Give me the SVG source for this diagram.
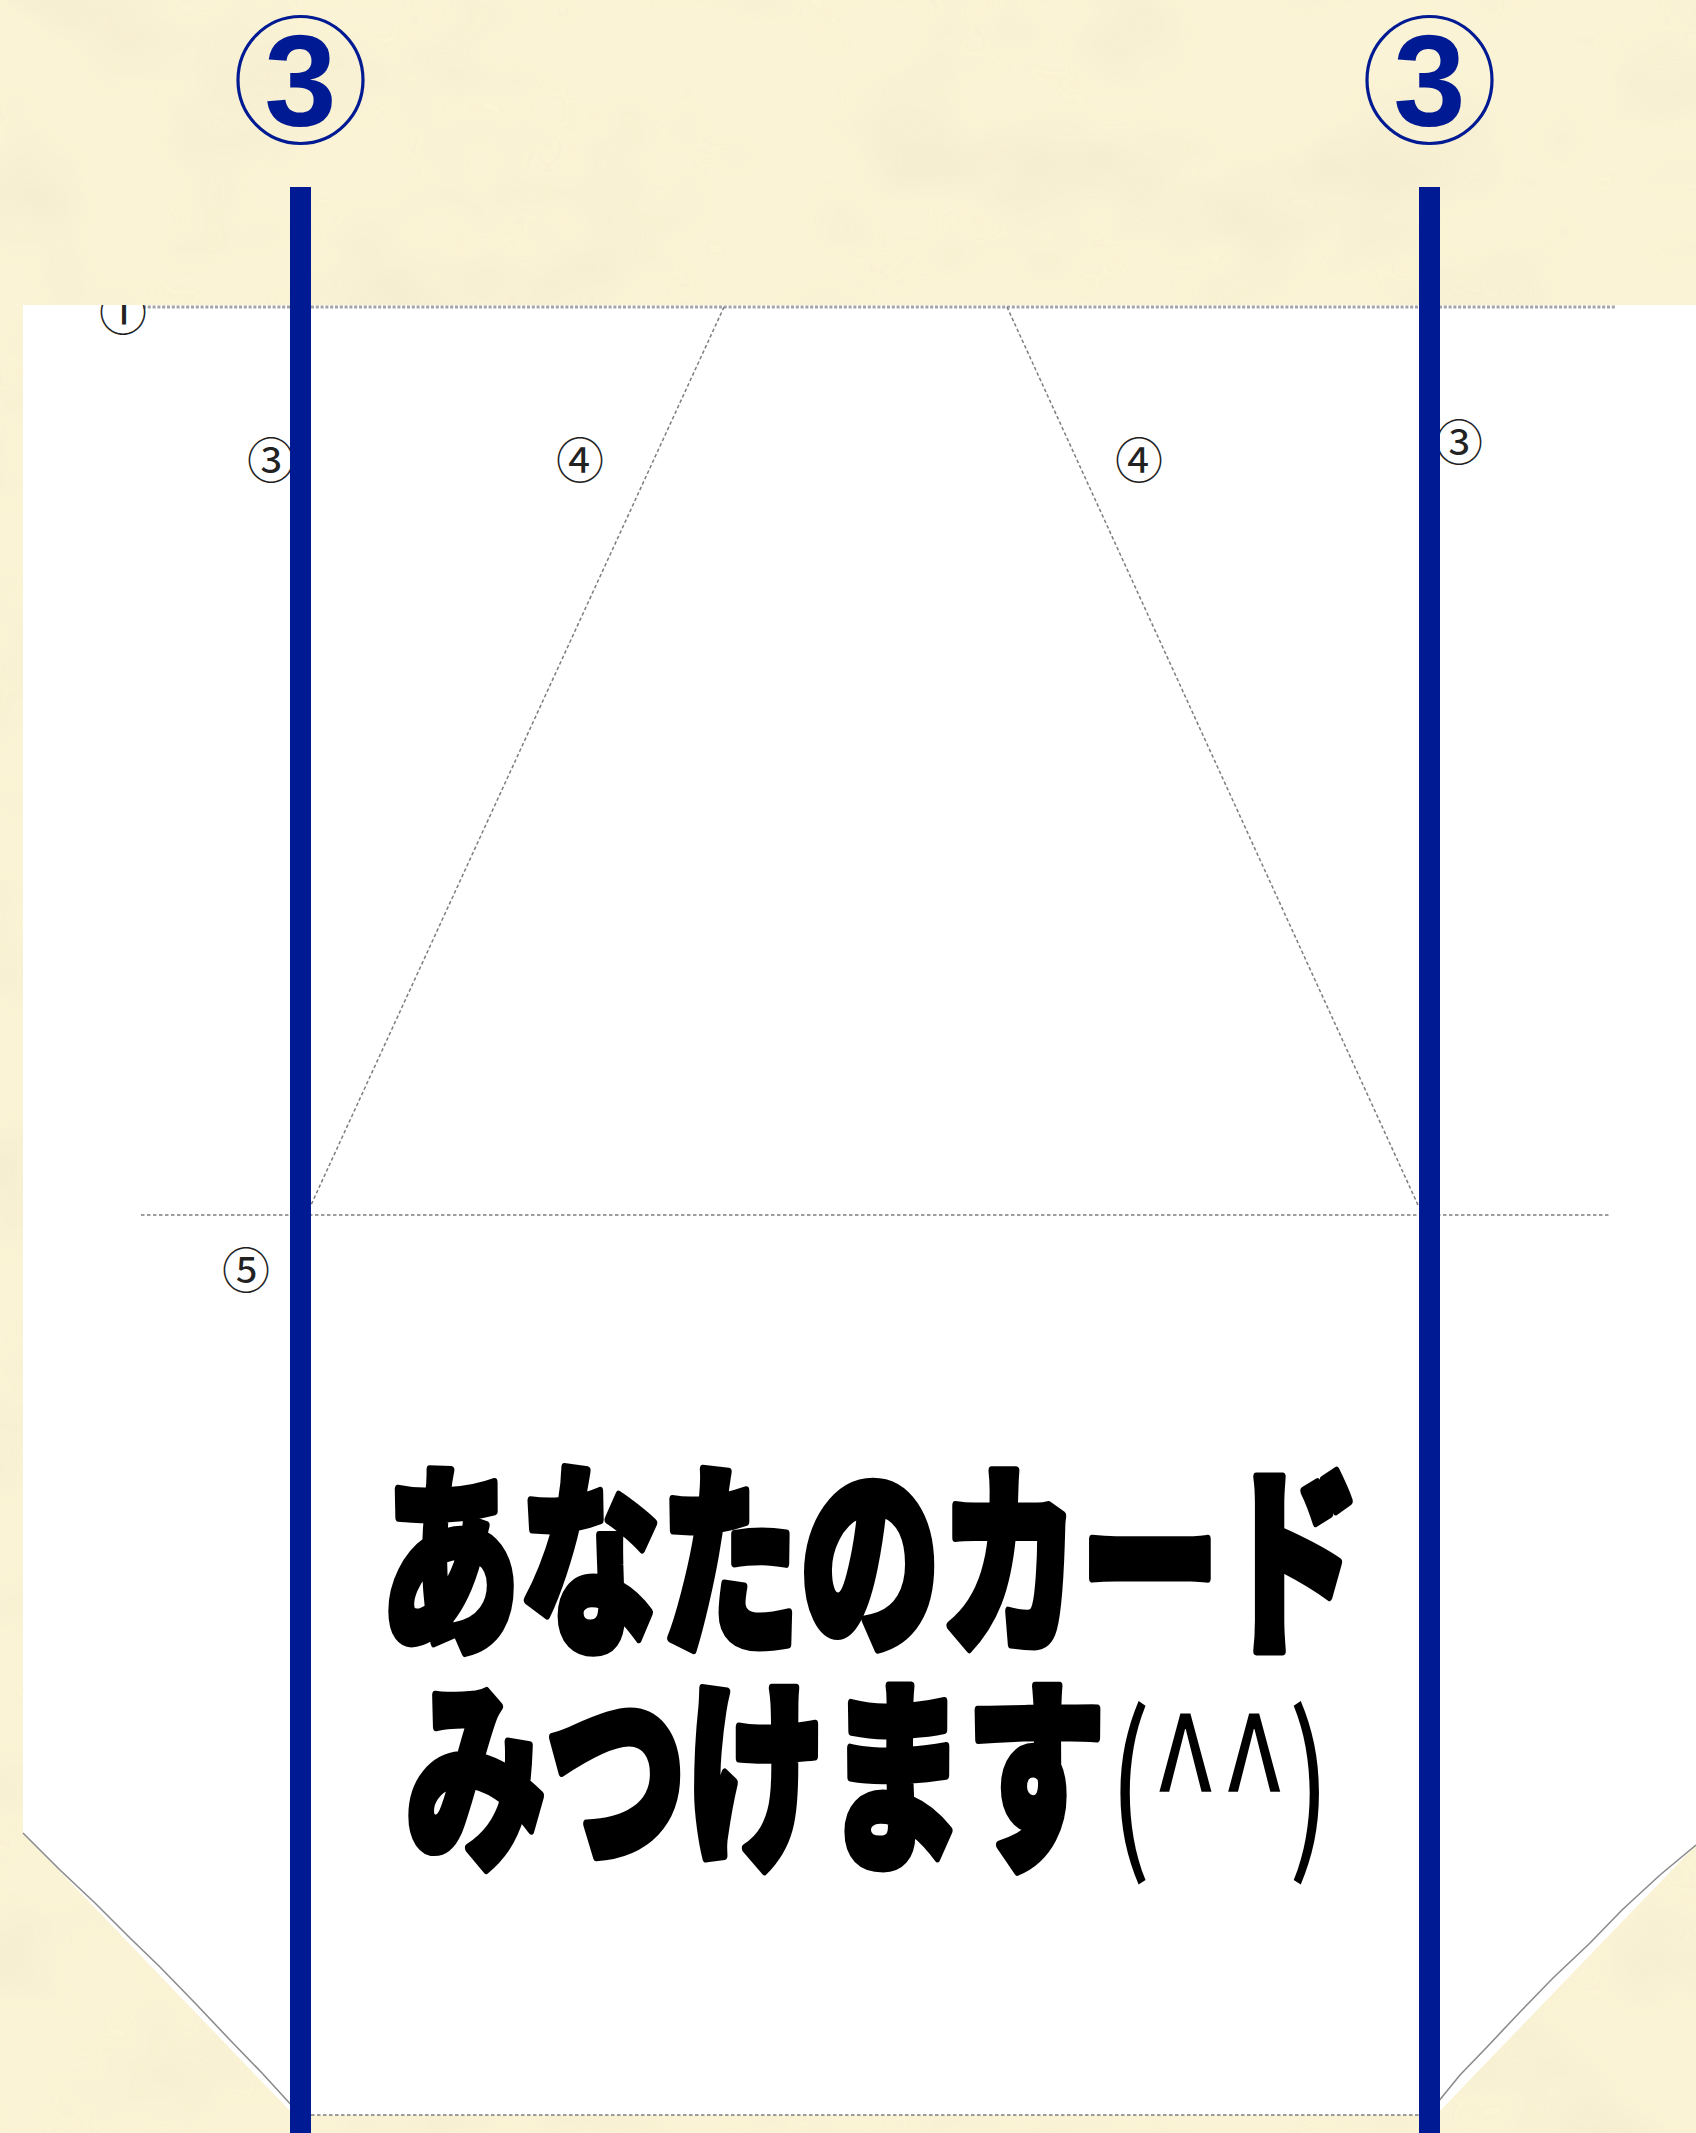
<svg xmlns="http://www.w3.org/2000/svg" width="1696" height="2133" viewBox="0 0 1696 2133">
<defs>
<style>
.lbl{font-family:"Noto Sans CJK JP","Noto Sans CJK SC",sans-serif;font-size:48px;fill:#222;text-anchor:middle}
.big{font-family:"Liberation Sans",Arial,sans-serif;font-weight:bold;font-size:130px;fill:#001a94;text-anchor:middle}
.ring{fill:none;stroke:#001a94;stroke-width:3.2}
.blue{fill:#001a94}
.dot1{stroke:#a3a3a3;stroke-width:3;stroke-dasharray:3 1.8;fill:none}
.dash{stroke:#7d7d7d;stroke-width:1.5;stroke-dasharray:3.5 2.5;fill:none}
.edge{stroke:#8c8c8c;stroke-width:1.6;fill:none}
.main{font-family:"Noto Sans CJK JP","Noto Sans CJK SC",sans-serif;font-weight:900;font-size:140px;fill:#000;stroke:#000;stroke-width:6;stroke-linejoin:round}
.paren{font-weight:400;font-size:124px;stroke:none}
</style>
<filter id="tex" x="0" y="0" width="100%" height="100%">
<feTurbulence type="fractalNoise" baseFrequency="0.006 0.008" numOctaves="3" seed="7"/>
<feColorMatrix type="matrix" values="0 0 0 0 0.86  0 0 0 0 0.8  0 0 0 0 0.6  0 0 0 1.8 -0.8"/>
</filter>
<clipPath id="paperclip"><polygon points="23,305 1696,305 1696,1845 1436,2115 294,2115 23,1833"/></clipPath>
</defs>

<g id="background">
<rect x="0" y="0" width="1696" height="2133" fill="#fbf3d5"/>
<rect x="0" y="0" width="1696" height="2133" filter="url(#tex)" opacity="0.6"/>
</g>

<g id="paper">
<polygon points="23,305 1696,305 1696,1845 1436,2115 294,2115 23,1833" fill="#ffffff"/>
<polyline class="edge" points="23,1833 60,1870 95,1903 130,1938 160,1967 195,2003 230,2040 262,2073 294,2108"/>
<polyline class="edge" points="1696,1845 1660,1875 1622,1910 1590,1943 1553,1978 1520,2012 1487,2047 1460,2075 1438,2102"/>
</g>

<g id="connectors">
<line class="dot1" x1="143" y1="307" x2="1616" y2="307"/>
<line class="dash" x1="141" y1="1215" x2="1611" y2="1215"/>
<line class="dash" x1="724" y1="307" x2="311" y2="1205"/>
<line class="dash" x1="1007" y1="307" x2="1418" y2="1205"/>
<line class="dash" x1="311" y1="2115" x2="1419" y2="2115"/>
</g>

<g id="label-1" clip-path="url(#paperclip)">
<text class="lbl" x="123" y="330">①</text>
</g>
<g id="label-3-left"><text class="lbl" x="271" y="478">③</text></g>
<g id="label-4-left"><text class="lbl" x="580" y="478">④</text></g>
<g id="label-4-right"><text class="lbl" x="1139" y="478">④</text></g>
<g id="label-3-right"><text class="lbl" x="1459" y="460">③</text></g>
<g id="label-5"><text class="lbl" x="246" y="1288">⑤</text></g>

<g id="fold-line-left">
<rect class="blue" x="290" y="187" width="21" height="1946"/>
</g>
<g id="fold-line-right">
<rect class="blue" x="1419" y="187" width="21" height="1946"/>
</g>

<g id="marker-3-left">
<ellipse class="ring" cx="300.5" cy="80" rx="62.5" ry="63.5"/>
<text class="big" x="300.5" y="126">3</text>
</g>
<g id="marker-3-right">
<ellipse class="ring" cx="1429.5" cy="80" rx="62.5" ry="63.5"/>
<text class="big" x="1429.5" y="126">3</text>
</g>

<g id="title">
<text class="main" transform="scale(1,1.46)"><tspan x="380" y="1121.2">あなたのカード</tspan><tspan x="406" y="1269.2">みつけます</tspan><tspan class="paren" x="1109" y="1266.5">(^^)</tspan></text>
</g>
</svg>
